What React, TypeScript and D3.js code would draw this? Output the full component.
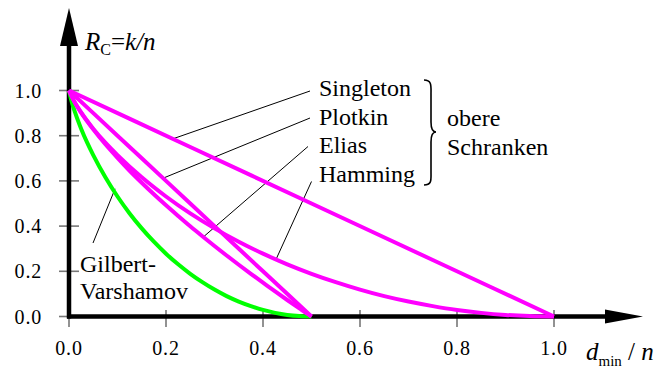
import React from "react";
import * as d3 from "d3";

// relative distance d_min/n and code rate R_C
const singletonDelta = [0, 0.25, 0.5, 0.75, 1.0];
const singletonRate = [1, 0.75, 0.5, 0.25, 0];

const plotkinDelta = [0, 0.1, 0.2, 0.3, 0.4, 0.5];
const plotkinRate = [1, 0.8, 0.6, 0.4, 0.2, 0];

const eliasDelta = [0, 0.01, 0.025, 0.05, 0.075, 0.1, 0.125, 0.15, 0.175, 0.2, 0.225, 0.25, 0.275, 0.3, 0.325, 0.35, 0.375, 0.4, 0.425, 0.45, 0.475, 0.49, 0.5];
const eliasRate = [1, 0.954, 0.902, 0.828, 0.762, 0.702, 0.645, 0.592, 0.541, 0.492, 0.445, 0.399, 0.355, 0.312, 0.27, 0.229, 0.189, 0.15, 0.111, 0.073, 0.036, 0.014, 0];

const hammingDelta = [0, 0.01, 0.025, 0.05, 0.075, 0.1, 0.15, 0.2, 0.25, 0.3, 0.35, 0.4, 0.45, 0.5, 0.55, 0.6, 0.65, 0.7, 0.75, 0.8, 0.85, 0.9, 0.95, 1.0];
const hammingRate = [1, 0.955, 0.903, 0.831, 0.769, 0.714, 0.616, 0.531, 0.456, 0.39, 0.331, 0.278, 0.231, 0.189, 0.152, 0.119, 0.09, 0.066, 0.046, 0.029, 0.016, 0.007, 0.002, 0];

const gvDelta = [0, 0.005, 0.0125, 0.025, 0.0375, 0.05, 0.075, 0.1, 0.125, 0.15, 0.175, 0.2, 0.225, 0.25, 0.275, 0.3, 0.325, 0.35, 0.375, 0.4, 0.425, 0.45, 0.475, 0.5];
const gvRate = [1, 0.955, 0.903, 0.831, 0.769, 0.714, 0.616, 0.531, 0.456, 0.39, 0.331, 0.278, 0.231, 0.189, 0.152, 0.119, 0.09, 0.066, 0.046, 0.029, 0.016, 0.007, 0.002, 0];

const tickValues = [0, 0.2, 0.4, 0.6, 0.8, 1.0];

// label names and the points on the curves where the leader lines end
const boundNames = ["Singleton", "Plotkin", "Elias", "Hamming"];
const anchorDelta = [0.214, 0.194, 0.277, 0.428];
const anchorRate = [0.786, 0.612, 0.352, 0.258];
const gvName = ["Gilbert-", "Varshamov"];
const gvAnchor = [0.095, 0.565];

const FONT = "Liberation Serif";

const x = d3.scaleLinear().domain([0, 1]).range([69, 554]);
const y = d3.scaleLinear().domain([0, 1]).range([316.5, 90.5]);

const line = d3
  .line<[number, number]>()
  .x((d) => x(d[0]))
  .y((d) => y(d[1]))
  .curve(d3.curveMonotoneX);

const curves = [
  { name: "gv", xs: gvDelta, ys: gvRate, color: "#00ff00" },
  { name: "hamming", xs: hammingDelta, ys: hammingRate, color: "#ff00ff" },
  { name: "elias", xs: eliasDelta, ys: eliasRate, color: "#ff00ff" },
  { name: "plotkin", xs: plotkinDelta, ys: plotkinRate, color: "#ff00ff" },
  { name: "singleton", xs: singletonDelta, ys: singletonRate, color: "#ff00ff" },
];

// where the leader lines meet the label texts
const textX = [310, 310, 308, 311.5];
const textY = [91, 118, 146.5, 181.5];
const labelY = [96, 124.5, 153, 182];

const App = () => {
  const y0 = y(0);
  const txt = { fontFamily: FONT };
  return (
    <svg
      width={659}
      height={368}
      style={{ position: "absolute", left: 0, top: 0, background: "#fff" }}
    >
      {/* ticks */}
      {tickValues.map((t) => (
        <line key={"xt" + t} x1={x(t)} x2={x(t)} y1={310} y2={327} stroke="#777" strokeWidth={1.6} />
      ))}
      {tickValues.map((t) => (
        <line key={"yt" + t} x1={59} x2={79} y1={y(t)} y2={y(t)} stroke="#777" strokeWidth={1.6} />
      ))}

      {/* axes */}
      <line x1={69} x2={69} y1={y0 + 2} y2={40} stroke="#000" strokeWidth={4.5} />
      <path d="M69,8 L78,46 L60,46 Z" fill="#000" />
      <line x1={67} x2={610} y1={y0} y2={y0} stroke="#000" strokeWidth={4.5} />
      <path d={`M643,${y0} L605,${y0 - 7} L605,${y0 + 7} Z`} fill="#000" />

      {/* tick labels */}
      {tickValues.map((t) => (
        <text key={"yl" + t} x={42} y={y(t) + 7} textAnchor="end" fontSize={20} letterSpacing={0.8} style={txt}>
          {t.toFixed(1)}
        </text>
      ))}
      {tickValues.map((t) => (
        <text key={"xl" + t} x={x(t)} y={355} textAnchor="middle" fontSize={20} letterSpacing={0.8} style={txt}>
          {t.toFixed(1)}
        </text>
      ))}

      {/* axis titles */}
      <text x={85} y={50} fontSize={25} style={txt}>
        <tspan fontStyle="italic">R</tspan>
        <tspan dy={5} fontSize={16}>C</tspan>
        <tspan dy={-5}>=</tspan>
        <tspan fontStyle="italic">k/n</tspan>
      </text>
      <text x={586} y={360} fontSize={25} style={txt}>
        <tspan fontStyle="italic">d</tspan>
        <tspan dy={6} fontSize={15}>min</tspan>
        <tspan dy={-6}> / </tspan>
        <tspan fontStyle="italic">n</tspan>
      </text>

      {/* leader lines */}
      {boundNames.map((n, i) => (
        <line
          key={"ll" + n}
          x1={x(anchorDelta[i])}
          y1={y(anchorRate[i])}
          x2={textX[i]}
          y2={textY[i]}
          stroke="#000"
          strokeWidth={1}
        />
      ))}
      <line x1={x(gvAnchor[0])} y1={y(gvAnchor[1])} x2={93} y2={243} stroke="#000" strokeWidth={1} />

      {/* curves */}
      {curves.map((c) => (
        <path
          key={c.name}
          d={line(c.xs.map((v, i) => [v, c.ys[i]] as [number, number])) || ""}
          fill="none"
          stroke={c.color}
          strokeWidth={4}
          strokeLinejoin="round"
        />
      ))}

      {/* labels */}
      {boundNames.map((n, i) => (
        <text key={"lb" + n} x={319} y={labelY[i]} fontSize={24} style={txt}>
          {n}
        </text>
      ))}
      <path
        d="M424,80 C432,80 431,86 431,94 L431,122 C431,128 432,132 436,132 C432,132 431,136 431,142 L431,172 C431,180 432,185 424,185"
        fill="none"
        stroke="#000"
        strokeWidth={1.6}
      />
      <text x={447} y={126} fontSize={24} style={txt}>obere</text>
      <text x={447} y={155} fontSize={24} style={txt}>Schranken</text>
      {gvName.map((n, i) => (
        <text key={n} x={80} y={271.5 + i * 27} fontSize={24} style={txt}>
          {n}
        </text>
      ))}
    </svg>
  );
};

export default App;
